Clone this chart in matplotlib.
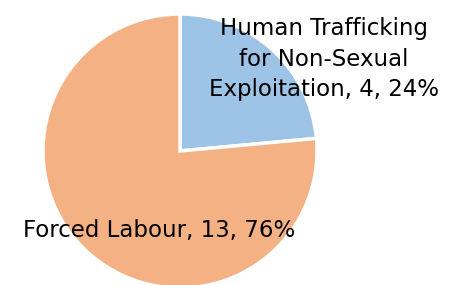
import matplotlib
matplotlib.use("Agg")
import matplotlib.pyplot as plt

categories = ["Human Trafficking\nfor Non-Sexual\nExploitation", "Forced Labour"]
values = [4, 13]
colors = ["#9DC3E6", "#F4B183"]

fig = plt.figure(figsize=(4.53, 2.85), dpi=100)
cx, cy, r = 180, 151, 137
W, H = 453, 285
ax = fig.add_axes([(cx - r) / W, (H - cy - r) / H, 2 * r / W, 2 * r / H])
wedges, _ = ax.pie(values, colors=colors, startangle=90, counterclock=False,
                   radius=1, wedgeprops=dict(edgecolor="white", linewidth=2.5))
ax.set_xlim(-1, 1)
ax.set_ylim(-1, 1)

total = sum(values)
pcts = [round(v / total * 100) for v in values]
labels = [f"{c}, {v}, {p}%" for c, v, p in zip(categories, values, pcts)]
positions = [(1.05, 0.67), (-0.15, -0.58)]
for lab, (x, y) in zip(labels, positions):
    ax.text(x, y, lab, ha="center", va="center", fontsize=16.5,
            family="DejaVu Sans", linespacing=1.42, clip_on=False)

fig.savefig("out.png", dpi=100)
